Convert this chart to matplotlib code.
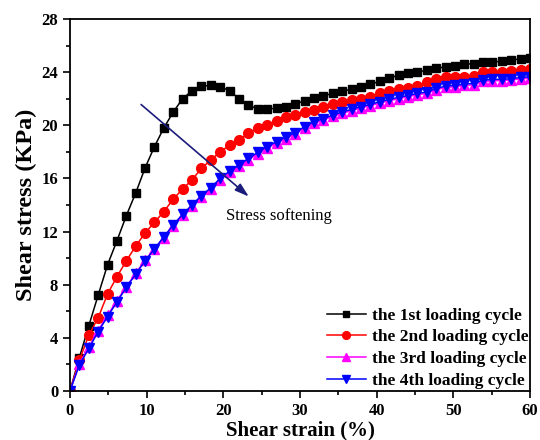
"""
Curvas de tensao x deformacao cisalhante para 4 ciclos de carga.
Shear stress vs shear strain, stress softening.
"""
import matplotlib
matplotlib.use("Agg")
import matplotlib.pyplot as plt
from matplotlib.ticker import MultipleLocator

# deformacao cisalhante (%)
strain = [0, 1.22, 2.45, 3.67, 4.90, 6.12, 7.35, 8.57, 9.80, 11.02,
          12.24, 13.47, 14.69, 15.92, 17.14, 18.37, 19.59, 20.82, 22.04, 23.27,
          24.49, 25.71, 26.94, 28.16, 29.39, 30.61, 31.84, 33.06, 34.29, 35.51,
          36.73, 37.96, 39.18, 40.41, 41.63, 42.86, 44.08, 45.31, 46.53, 47.76,
          48.98, 50.20, 51.43, 52.65, 53.88, 55.10, 56.33, 57.55, 58.78, 60.0]

# tensao cisalhante (KPa) por ciclo
cycle1 = [0, 2.5, 4.9, 7.2, 9.5, 11.3, 13.2, 14.9, 16.8, 18.4,
          19.8, 21.0, 22.0, 22.6, 22.95, 23.0, 22.9, 22.6, 22.0, 21.5,
          21.25, 21.2, 21.3, 21.4, 21.6, 21.85, 22.07, 22.22, 22.4, 22.57,
          22.72, 22.9, 23.1, 23.3, 23.55, 23.77, 23.9, 24.0, 24.15, 24.28,
          24.4, 24.45, 24.58, 24.65, 24.73, 24.75, 24.83, 24.9, 25.0, 25.07]
cycle2 = [0, 2.3, 4.2, 5.5, 7.3, 8.6, 9.8, 10.9, 11.9, 12.7,
          13.5, 14.45, 15.2, 15.9, 16.75, 17.4, 18.0, 18.5, 18.9, 19.4,
          19.8, 20.0, 20.3, 20.6, 20.8, 21.0, 21.14, 21.39, 21.57, 21.77,
          21.9, 21.95, 22.15, 22.4, 22.6, 22.7, 22.78, 22.95, 23.23, 23.45,
          23.6, 23.6, 23.65, 23.7, 23.98, 24.0, 24.03, 24.1, 24.15, 24.2]
cycle3 = [0, 2.05, 3.3, 4.55, 5.7, 6.8, 7.85, 8.85, 9.85, 10.7,
          11.55, 12.45, 13.25, 13.95, 14.6, 15.2, 15.9, 16.45, 16.9, 17.4,
          17.85, 18.3, 18.65, 19.0, 19.35, 19.8, 20.15, 20.4, 20.67, 20.9,
          21.1, 21.3, 21.47, 21.67, 21.85, 22.0, 22.15, 22.3, 22.4, 22.67,
          22.85, 22.9, 23.0, 23.05, 23.3, 23.35, 23.37, 23.4, 23.5, 23.55]
cycle4 = [0, 1.96, 3.2, 4.46, 5.6, 6.7, 7.8, 8.8, 9.8, 10.7,
          11.6, 12.5, 13.3, 14.0, 14.7, 15.3, 16.0, 16.55, 17.0, 17.5,
          17.96, 18.4, 18.76, 19.1, 19.45, 19.9, 20.26, 20.5, 20.77, 21.0,
          21.2, 21.4, 21.57, 21.77, 21.95, 22.1, 22.25, 22.4, 22.5, 22.77,
          22.95, 23.0, 23.1, 23.15, 23.4, 23.45, 23.47, 23.5, 23.6, 23.65]

labels = ["the 1st loading cycle", "the 2nd loading cycle",
          "the 3rd loading cycle", "the 4th loading cycle"]

SERIF = "Liberation Serif"
plt.rcParams["font.family"] = SERIF

fig = plt.figure(figsize=(5.4, 4.4), dpi=100)
ax = fig.add_axes([0.1296, 0.1114, 0.8519, 0.8454])

# curvas
ax.plot(strain, cycle1, "-s", color="black", ms=6, lw=1.1, label=labels[0])
ax.plot(strain, cycle2, "-o", color="red", ms=7, lw=1.1, label=labels[1])
ax.plot(strain, cycle3, "-^", color="magenta", ms=7, lw=1.1, label=labels[2])
ax.plot(strain, cycle4, "-v", color="blue", ms=7, lw=1.1, label=labels[3])

# seta "stress softening"
ax.annotate("", xy=(23.6, 14.5), xytext=(9.0, 21.7),
            arrowprops=dict(arrowstyle="-|>,head_length=0.7,head_width=0.22",
                            color="#1c1c7c", lw=1.2, mutation_scale=12))
ax.text(20.3, 13.2, "Stress softening", fontsize=12, va="center")

ax.set_xlim(0, 60)
ax.set_ylim(0, 28)
ax.xaxis.set_major_locator(MultipleLocator(10))
ax.xaxis.set_minor_locator(MultipleLocator(5))
ax.yaxis.set_major_locator(MultipleLocator(4))
ax.yaxis.set_minor_locator(MultipleLocator(2))
ax.tick_params(which="both", direction="out", top=False, right=False,
               width=1.2)
ax.tick_params(which="major", length=5, labelsize=12)
ax.tick_params(which="minor", length=3)
for lab in ax.get_xticklabels() + ax.get_yticklabels():
    lab.set_fontweight("bold")
for sp in ax.spines.values():
    sp.set_linewidth(1.3)

ax.set_xlabel("Shear strain (%)", fontsize=15, fontweight="bold", labelpad=1)
ax.set_ylabel("Shear stress (KPa)", fontsize=17.5, fontweight="bold",
              labelpad=3)

ax.legend(loc="lower right", frameon=False, prop=dict(weight="bold", size=12.5),
          handlelength=2.3, handletextpad=0.3, labelspacing=0.33,
          borderaxespad=0.0, borderpad=0.1, markerscale=0.8)

fig.savefig("out.png", dpi=100)
